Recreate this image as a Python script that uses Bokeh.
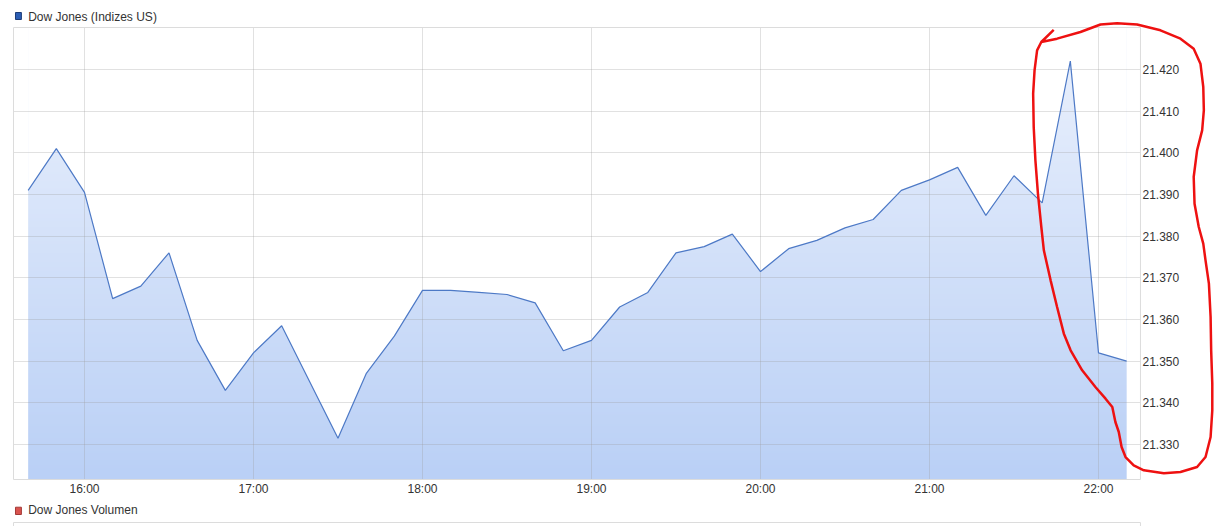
import numpy as np
from bokeh.plotting import figure
from bokeh.models import FixedTicker, Label, BoxAnnotation, PolyAnnotation, Range1d
from bokeh.embed import file_html
from bokeh.resources import INLINE

# ---- data -------------------------------------------------------------
times = ["15:40", "15:50",
         "16:00", "16:10", "16:20", "16:30", "16:40", "16:50",
         "17:00", "17:10", "17:20", "17:30", "17:40", "17:50",
         "18:00", "18:10", "18:20", "18:30", "18:40", "18:50",
         "19:00", "19:10", "19:20", "19:30", "19:40", "19:50",
         "20:00", "20:10", "20:20", "20:30", "20:40", "20:50",
         "21:00", "21:10", "21:20", "21:30", "21:40", "21:50",
         "22:00", "22:10"]
values = [21391, 21401,
          21390.5, 21365, 21368, 21376, 21355, 21343,
          21352, 21358.5, 21345, 21331.5, 21347, 21356,
          21367, 21367, 21366.5, 21366, 21364, 21352.5,
          21355, 21363, 21366.5, 21376, 21377.5, 21380.5,
          21371.5, 21377, 21379, 21382, 21384, 21391,
          21393.5, 21396.5, 21385, 21394.5, 21388, 21422,
          21352, 21350]

x_tick_labels = ["16:00", "17:00", "18:00", "19:00", "20:00", "21:00", "22:00"]
y_ticks = [21330, 21340, 21350, 21360, 21370, 21380, 21390, 21400, 21410, 21420]
y_tick_labels = ["21.330", "21.340", "21.350", "21.360", "21.370",
                 "21.380", "21.390", "21.400", "21.410", "21.420"]

title_main = "Dow Jones (Indizes US)"
title_volume = "Dow Jones Volumen"

# hand-drawn red circle (minutes since midnight, index value)
circle_t = [1304.1, 1299.7, 1305.3, 1313.6, 1320.7, 1326.6, 1333.7, 1342.0, 1349.1,
            1353.8, 1356.2, 1357.2, 1357.4, 1356.8, 1355.0, 1353.8, 1354.1, 1355.6,
            1357.2, 1358.0, 1359.2, 1359.8, 1360.0, 1360.4, 1360.4, 1359.8, 1358.0,
            1355.0, 1349.1, 1343.2, 1336.1, 1332.5, 1329.6, 1328.2, 1327.2, 1326.0,
            1324.9, 1322.5, 1318.9, 1314.2, 1310.1, 1307.7, 1305.3, 1303.0, 1300.6,
            1299.7, 1298.5, 1297.6, 1297.0, 1296.8, 1297.3, 1298.2, 1299.7]
circle_v = [21429.5, 21426.6, 21427.4, 21429.0, 21430.8, 21431.1, 21430.8, 21429.4, 21427.4,
            21425.0, 21421.4, 21415.8, 21410.2, 21405.4, 21400.6, 21394.2, 21387.8, 21382.2,
            21378.2, 21374.2, 21368.6, 21360.6, 21352.6, 21344.6, 21338.2, 21331.8, 21327.0,
            21324.6, 21323.4, 21323.1, 21323.8, 21325.0, 21327.0, 21329.4, 21333.0, 21335.4,
            21339.0, 21341.0, 21343.8, 21347.8, 21352.6, 21356.6, 21363.0, 21369.4, 21376.6,
            21382.2, 21390.2, 21398.2, 21406.2, 21414.2, 21419.8, 21424.6, 21426.6]


def to_min(s):
    h, m = s.split(":")
    return int(h) * 60 + int(m)


x = [to_min(t) for t in times]
x_ticks = [to_min(t) for t in x_tick_labels]

# whole canvas is the frame; the visible chart box is drawn inside it
W, H = 1215, 526
X0, X1 = 930.18, 1361.54          # canvas x range (minutes)
Y0, Y1 = 21310.32, 21436.56       # canvas y range (index)
BX0, BX1 = 934.8, 1334.9          # chart box x extent
BY0, BY1 = 21321.6, 21430.08      # chart box y extent

FONT = "Liberation Sans"
TXT = "#333333"

p = figure(width=W, height=H, output_backend="svg", toolbar_location=None,
           x_range=Range1d(X0, X1), y_range=Range1d(Y0, Y1),
           y_axis_location="right",
           min_border_left=0, min_border_right=0,
           min_border_top=0, min_border_bottom=0)
p.background_fill_color = "white"
p.border_fill_color = "white"
p.outline_line_color = None

# gradient area: vertical gradient image masked above the line
n = 256
top_c = np.array([236, 242, 253], dtype=float)
bot_c = np.array([186, 208, 246], dtype=float)
frac = np.linspace(0, 1, n)[:, None]
cols = bot_c + (top_c - bot_c) * frac
img = np.zeros((n, 1), dtype=np.uint32)
view = img.view(dtype=np.uint8).reshape((n, 1, 4))
view[:, 0, 0] = cols[:, 0].astype(np.uint8)
view[:, 0, 1] = cols[:, 1].astype(np.uint8)
view[:, 0, 2] = cols[:, 2].astype(np.uint8)
view[:, 0, 3] = 255
p.image_rgba(image=[img], x=x[0], y=BY0, dw=x[-1] - x[0], dh=BY1 - BY0, level="image")
p.varea(x=x, y1=values, y2=[BY1] * len(x), fill_color="white", level="underlay")

# grid, limited to the chart box
p.xgrid.ticker = FixedTicker(ticks=x_ticks)
p.ygrid.ticker = FixedTicker(ticks=y_ticks)
p.xgrid.bounds = (BX0, BX1)
p.ygrid.bounds = (BY0, BY1)
p.xgrid.cross_bounds = (BY0, BY1)
p.ygrid.cross_bounds = (BX0, BX1)
for g in (p.xgrid[0], p.ygrid[0]):
    g.grid_line_color = "#9a9a9a"
    g.grid_line_alpha = 0.3
    g.grid_line_width = 1
    g.level = "glyph"

# chart box outline
p.add_layout(BoxAnnotation(left=BX0, right=BX1, bottom=BY0, top=BY1,
                           fill_alpha=0, fill_color=None,
                           line_color="#dcdcdc", line_alpha=1, line_width=1,
                           level="glyph"))

# line
p.line(x, values, line_color="#4d79c6", line_width=1.2, level="guide")

# axes (labels drawn inward onto the canvas)
xa = p.xaxis[0]
xa.ticker = FixedTicker(ticks=x_ticks)
xa.major_label_overrides = dict(zip(x_ticks, x_tick_labels))
ya = p.yaxis[0]
ya.ticker = FixedTicker(ticks=y_ticks)
ya.major_label_overrides = dict(zip(y_ticks, y_tick_labels))
for ax in (xa, ya):
    ax.axis_line_color = None
    ax.major_tick_line_color = None
    ax.minor_tick_line_color = None
    ax.major_tick_in = 0
    ax.major_tick_out = 0
    ax.major_label_text_font = FONT
    ax.major_label_text_font_size = "12px"
    ax.major_label_text_color = TXT
xa.major_label_standoff = -45
ya.major_label_standoff = -73

# titles with coloured squares
p.add_layout(BoxAnnotation(left=935.5, right=937.6, bottom=21432.0, top=21433.68,
                           fill_color="#2c5eb4", fill_alpha=1,
                           line_color="#1c3c78", line_alpha=1, line_width=1))
p.add_layout(Label(x=940, y=21432.72, text=title_main, text_font=FONT,
                   text_font_size="12px", text_color=TXT,
                   text_baseline="middle"))
p.add_layout(BoxAnnotation(left=935.5, right=937.6, bottom=21313.2, top=21314.95,
                           fill_color="#d9534f", fill_alpha=1,
                           line_color="#a33a37", line_alpha=1, line_width=1))
p.add_layout(Label(x=940, y=21314.2, text=title_volume, text_font=FONT,
                   text_font_size="12px", text_color=TXT,
                   text_baseline="middle"))
# top edge of the (empty) volume panel
p.add_layout(BoxAnnotation(left=BX0, right=BX1, bottom=Y0 - 5, top=21311.28,
                           fill_alpha=0, fill_color=None,
                           line_color="#dcdcdc", line_alpha=1, line_width=1))

# red hand-drawn circle
p.add_layout(PolyAnnotation(xs=circle_t, ys=circle_v, line_color="#ee1111",
                            line_alpha=1, line_width=2.5,
                            fill_color=None, fill_alpha=0))

open("out.html", "w").write(file_html(p, INLINE))
